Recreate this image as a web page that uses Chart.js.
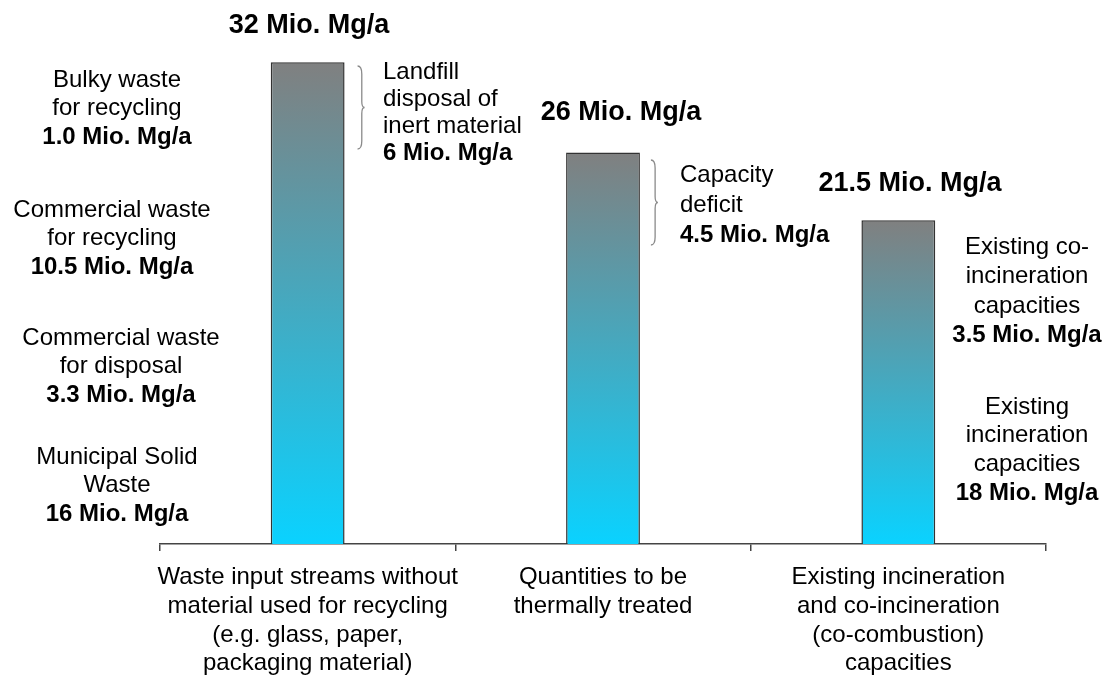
<!DOCTYPE html>
<html>
<head>
<meta charset="utf-8">
<title>Waste quantities vs. incineration capacities</title>
<script src="https://cdn.jsdelivr.net/npm/chart.js@4.4.1/dist/chart.umd.min.js"></script>
<style>
  html, body { margin:0; padding:0; background:#fff; }
  #wrap { width:1107px; height:684px; position:relative; }
</style>
</head>
<body>
<div id="wrap"><canvas id="chart"></canvas></div>
<script>
// Kategorien (Achsenbeschriftung, mehrzeilig)
const categories = [
  ['Waste input streams without', 'material used for recycling', '(e.g. glass, paper,', 'packaging material)'],
  ['Quantities to be', 'thermally treated'],
  ['Existing incineration', 'and co-incineration', '(co-combustion)', 'capacities']
];
// Gesamtmengen in Mio. Mg/a
const totals = [32, 26, 21.5];
const totalLabels = ['32 Mio. Mg/a', '26 Mio. Mg/a', '21.5 Mio. Mg/a'];

// Teilmengen neben den Balken (Text, letzte Zeile fett)
const inputParts = [
  ['Bulky waste', 'for recycling', '1.0 Mio. Mg/a'],
  ['Commercial waste', 'for recycling', '10.5 Mio. Mg/a'],
  ['Commercial waste', 'for disposal', '3.3 Mio. Mg/a'],
  ['Municipal Solid', 'Waste', '16 Mio. Mg/a']
];
const landfillNote = ['Landfill', 'disposal of', 'inert material', '6 Mio. Mg/a'];
const deficitNote = ['Capacity', 'deficit', '4.5 Mio. Mg/a'];
const capacityParts = [
  ['Existing co-', 'incineration', 'capacities', '3.5 Mio. Mg/a'],
  ['Existing', 'incineration', 'capacities', '18 Mio. Mg/a']
];

const FONT = '"Liberation Sans", Arial, sans-serif';

// Verlauf grau (oben) -> cyan (unten), je Balken
function barGradient(c){
  const chart = c.chart;
  const ys = chart.scales.y;
  if(!ys || c.type !== 'data') return '#4aa8cc';
  const top = ys.getPixelForValue(c.raw);
  const bottom = ys.getPixelForValue(0);
  if(!isFinite(top) || !isFinite(bottom) || top === bottom) return '#4aa8cc';
  const g = chart.ctx.createLinearGradient(0, top, 0, bottom);
  g.addColorStop(0, '#808080');
  g.addColorStop(1, '#0ad2ff');
  return g;
}

function textBlock(ctx, lines, x, y0, dy, align){
  ctx.textAlign = align;
  ctx.textBaseline = 'middle';
  lines.forEach((t, i) => {
    const last = i === lines.length - 1;
    ctx.font = (last ? 'bold ' : '') + '24px ' + FONT;
    ctx.fillText(t, x, y0 + i*dy);
  });
}

function brace(ctx, x, top, bottom, w){
  const mid = (top + bottom)/2;
  ctx.beginPath();
  ctx.moveTo(x, top);
  ctx.quadraticCurveTo(x + w*0.6, top, x + w*0.6, top + 8);
  ctx.lineTo(x + w*0.6, mid - 6);
  ctx.quadraticCurveTo(x + w*0.6, mid, x + w, mid);
  ctx.quadraticCurveTo(x + w*0.6, mid, x + w*0.6, mid + 6);
  ctx.lineTo(x + w*0.6, bottom - 8);
  ctx.quadraticCurveTo(x + w*0.6, bottom, x, bottom);
  ctx.stroke();
}

const notesPlugin = {
  id: 'notes',
  afterDraw(chart){
    const ctx = chart.ctx;
    const bars = chart.getDatasetMeta(0).data;
    ctx.save();
    ctx.fillStyle = '#000';

    // Summen über den Balken
    const totalX = [309, 621, 910];
    ctx.font = 'bold 27px ' + FONT;
    ctx.textAlign = 'center';
    ctx.textBaseline = 'middle';
    bars.forEach((b, i) => {
      ctx.fillText(totalLabels[i], totalX[i], b.y - (i === 1 ? 40 : 37));
    });

    // linke Beschriftungen (Balken 1)
    const leftPos = [[117, 80], [112, 210], [121, 338], [117, 457]];
    inputParts.forEach((lines, i) => textBlock(ctx, lines, leftPos[i][0], leftPos[i][1], 28.5, 'center'));

    // Klammern + Notizen
    ctx.strokeStyle = '#8a8a8a';
    ctx.lineWidth = 1.3;
    const r1 = bars[0].x + bars[0].width/2;
    brace(ctx, r1 + 13, 66, 149, 7);
    textBlock(ctx, landfillNote, 383, 72, 27, 'left');

    const r2 = bars[1].x + bars[1].width/2;
    brace(ctx, r2 + 11, 160, 245, 7);
    textBlock(ctx, deficitNote, 680, 175, 30, 'left');

    // rechte Beschriftungen (Balken 3)
    textBlock(ctx, capacityParts[0], 1027, 247, 29.5, 'center');
    textBlock(ctx, capacityParts[1], 1027, 407, 28.7, 'center');
    ctx.restore();
  }
};

document.addEventListener('DOMContentLoaded', () => {
  new Chart(document.getElementById('chart').getContext('2d'), {
    type: 'bar',
    data: {
      labels: categories,
      datasets: [{
        data: totals,
        backgroundColor: barGradient,
        borderColor: '#333',
        borderWidth: 1.5,
        barPercentage: 1,
        categoryPercentage: 0.25
      }]
    },
    options: {
      responsive: true,
      maintainAspectRatio: false,
      animation: false,
      layout: { padding: { left: 160, right: 61, top: 17, bottom: 0 } },
      plugins: { legend: { display:false }, tooltip: { enabled:false } },
      scales: {
        x: {
          offset: true,
          afterFit: s => { s.height = 140; },
          grid: { display:true, drawOnChartArea:false, offset:true, tickLength:7, color:'#444', lineWidth:1.5 },
          border: { display:true, color:'#444', width:1.5 },
          ticks: { color:'#000', padding:12, maxRotation:0, autoSkip:false,
                   font: { family: FONT, size: 24, lineHeight: 1.2 } }
        },
        y: { display:false, min:0, max:35 }
      }
    },
    plugins: [notesPlugin]
  });
});
</script>
</body>
</html>
